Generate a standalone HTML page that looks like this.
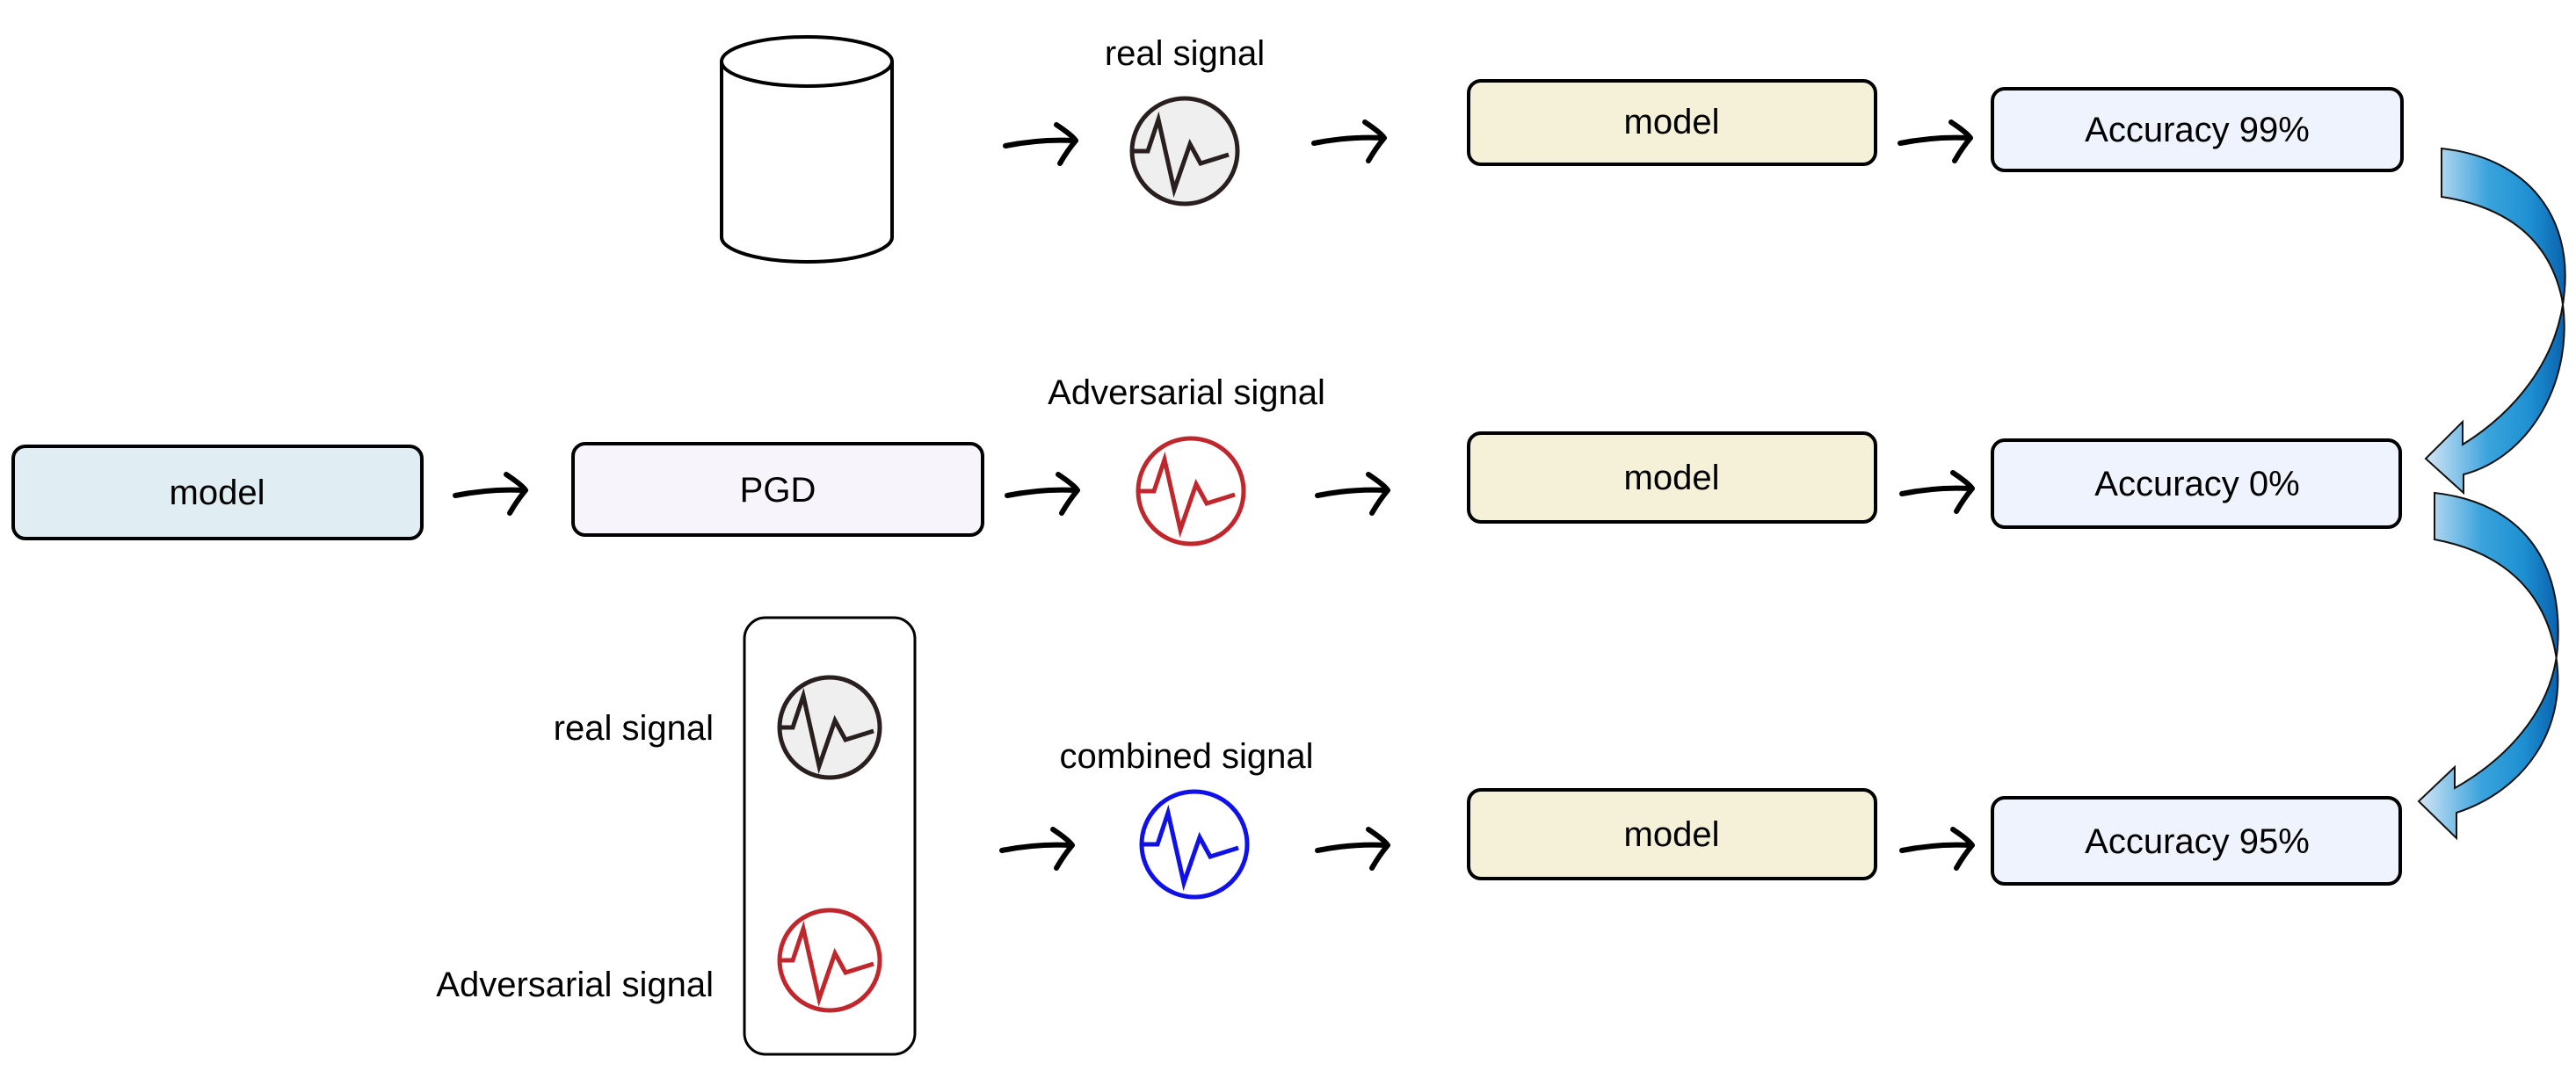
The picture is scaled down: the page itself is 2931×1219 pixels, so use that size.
<!DOCTYPE html>
<html><head><meta charset="utf-8"><style>
html,body{margin:0;padding:0;background:#fff;}
svg{display:block}
text{font-family:"Liberation Sans",sans-serif;fill:#000}
</style></head><body>
<svg width="2931" height="1219" viewBox="0 0 2931 1219" xmlns="http://www.w3.org/2000/svg">
<defs>
<linearGradient id="bg" x1="0" y1="0" x2="1" y2="0">
<stop offset="0" stop-color="#d4e6f6"/><stop offset="0.45" stop-color="#3aa3dc"/><stop offset="0.75" stop-color="#1e90d2"/><stop offset="1" stop-color="#0a62ad"/>
</linearGradient>
<g id="arr"><path d="M0,6 Q40,-2 78,0" fill="none" stroke="#000" stroke-width="6" stroke-linecap="round"/><path d="M58,-18 Q76,-6 80,0 Q70,12 62,26" fill="none" stroke="#000" stroke-width="6" stroke-linecap="round" stroke-linejoin="round"/></g>
<g id="zig"><path d="M-58,0 L-42,0 L-30,-36 L-12,44 L6,-8 L18,14 L50,4" fill="none" stroke-width="5" stroke-linejoin="miter"/></g>
</defs>

<!-- cylinder -->
<path d="M821,70 L821,270 A97,28 0 0 0 1015,270 L1015,70" fill="#fff" stroke="#000" stroke-width="4"/>
<ellipse cx="918" cy="70" rx="97" ry="28" fill="#fff" stroke="#000" stroke-width="4"/>

<!-- labels -->
<text x="1348" y="74" font-size="40" text-anchor="middle">real signal</text>
<text x="1350" y="460" font-size="40" text-anchor="middle">Adversarial signal</text>
<text x="1350" y="874" font-size="40" text-anchor="middle">combined signal</text>
<text x="812" y="842" font-size="40" text-anchor="end">real signal</text>
<text x="812" y="1134" font-size="40" text-anchor="end">Adversarial signal</text>

<!-- circles -->
<g stroke="#2a1f1f"><circle cx="1348" cy="172" r="60" fill="#efefef" stroke-width="5"/><use href="#zig" x="1348" y="172" stroke="#2a1f1f"/></g>
<g stroke="#c0272d"><circle cx="1355" cy="559" r="60" fill="#fff" stroke-width="5"/><use href="#zig" x="1355" y="559"/></g>
<g stroke="#1010e8"><circle cx="1359" cy="961" r="60" fill="#fff" stroke-width="5"/><use href="#zig" x="1359" y="961"/></g>

<!-- tall box -->
<rect x="847" y="703" width="194" height="497" rx="24" fill="#fff" stroke="#000" stroke-width="3"/>
<g stroke="#2a1f1f"><circle cx="944" cy="828" r="57" fill="#efefef" stroke-width="5"/><use href="#zig" x="944" y="828"/></g>
<g stroke="#c0272d"><circle cx="944" cy="1093" r="57" fill="#fff" stroke-width="5"/><use href="#zig" x="944" y="1093"/></g>

<!-- boxes -->
<g stroke="#000" stroke-width="4">
<rect x="1671" y="92" width="463" height="95" rx="14" fill="#f5f0d8"/>
<rect x="2267" y="101" width="466" height="93" rx="14" fill="#eef3fd"/>
<rect x="15" y="508" width="465" height="105" rx="14" fill="#e0eef3"/>
<rect x="652" y="505" width="466" height="104" rx="14" fill="#f8f4fb"/>
<rect x="1671" y="493" width="463" height="101" rx="14" fill="#f5f0d8"/>
<rect x="2267" y="501" width="464" height="99" rx="14" fill="#eef3fd"/>
<rect x="1671" y="899" width="463" height="101" rx="14" fill="#f5f0d8"/>
<rect x="2267" y="908" width="464" height="98" rx="14" fill="#eef3fd"/>
</g>
<g font-size="40" text-anchor="middle">
<text x="1902" y="152">model</text>
<text x="2500" y="161">Accuracy 99%</text>
<text x="247" y="574">model</text>
<text x="885" y="571">PGD</text>
<text x="1902" y="557">model</text>
<text x="2500" y="564">Accuracy 0%</text>
<text x="1902" y="963">model</text>
<text x="2500" y="971">Accuracy 95%</text>
</g>

<!-- arrows -->
<use href="#arr" x="1144" y="160"/>
<use href="#arr" x="1495" y="157"/>
<use href="#arr" x="2162" y="157"/>
<use href="#arr" x="518" y="558"/>
<use href="#arr" x="1146" y="558"/>
<use href="#arr" x="1499" y="558"/>
<use href="#arr" x="2164" y="556"/>
<use href="#arr" x="1140" y="962"/>
<use href="#arr" x="1499" y="962"/>
<use href="#arr" x="2164" y="962"/>

<!-- blue curved arrows -->
<path d="M2778,169 C2880,180 2925,250 2918,330 C2912,410 2860,470 2802,506 L2802,480 L2760,522 L2803,561 L2803,540 C2880,520 2930,430 2915,340 C2900,270 2850,235 2778,224 Z" fill="url(#bg)" stroke="#111" stroke-width="2"/>
<path d="M2770,561 C2870,572 2917,640 2910,737 C2904,810 2850,865 2793,897 L2793,873 L2752,912 L2795,954 L2795,925 C2872,900 2922,830 2908,745 C2895,670 2845,628 2770,614 Z" fill="url(#bg)" stroke="#111" stroke-width="2"/>
</svg>
</body></html>
